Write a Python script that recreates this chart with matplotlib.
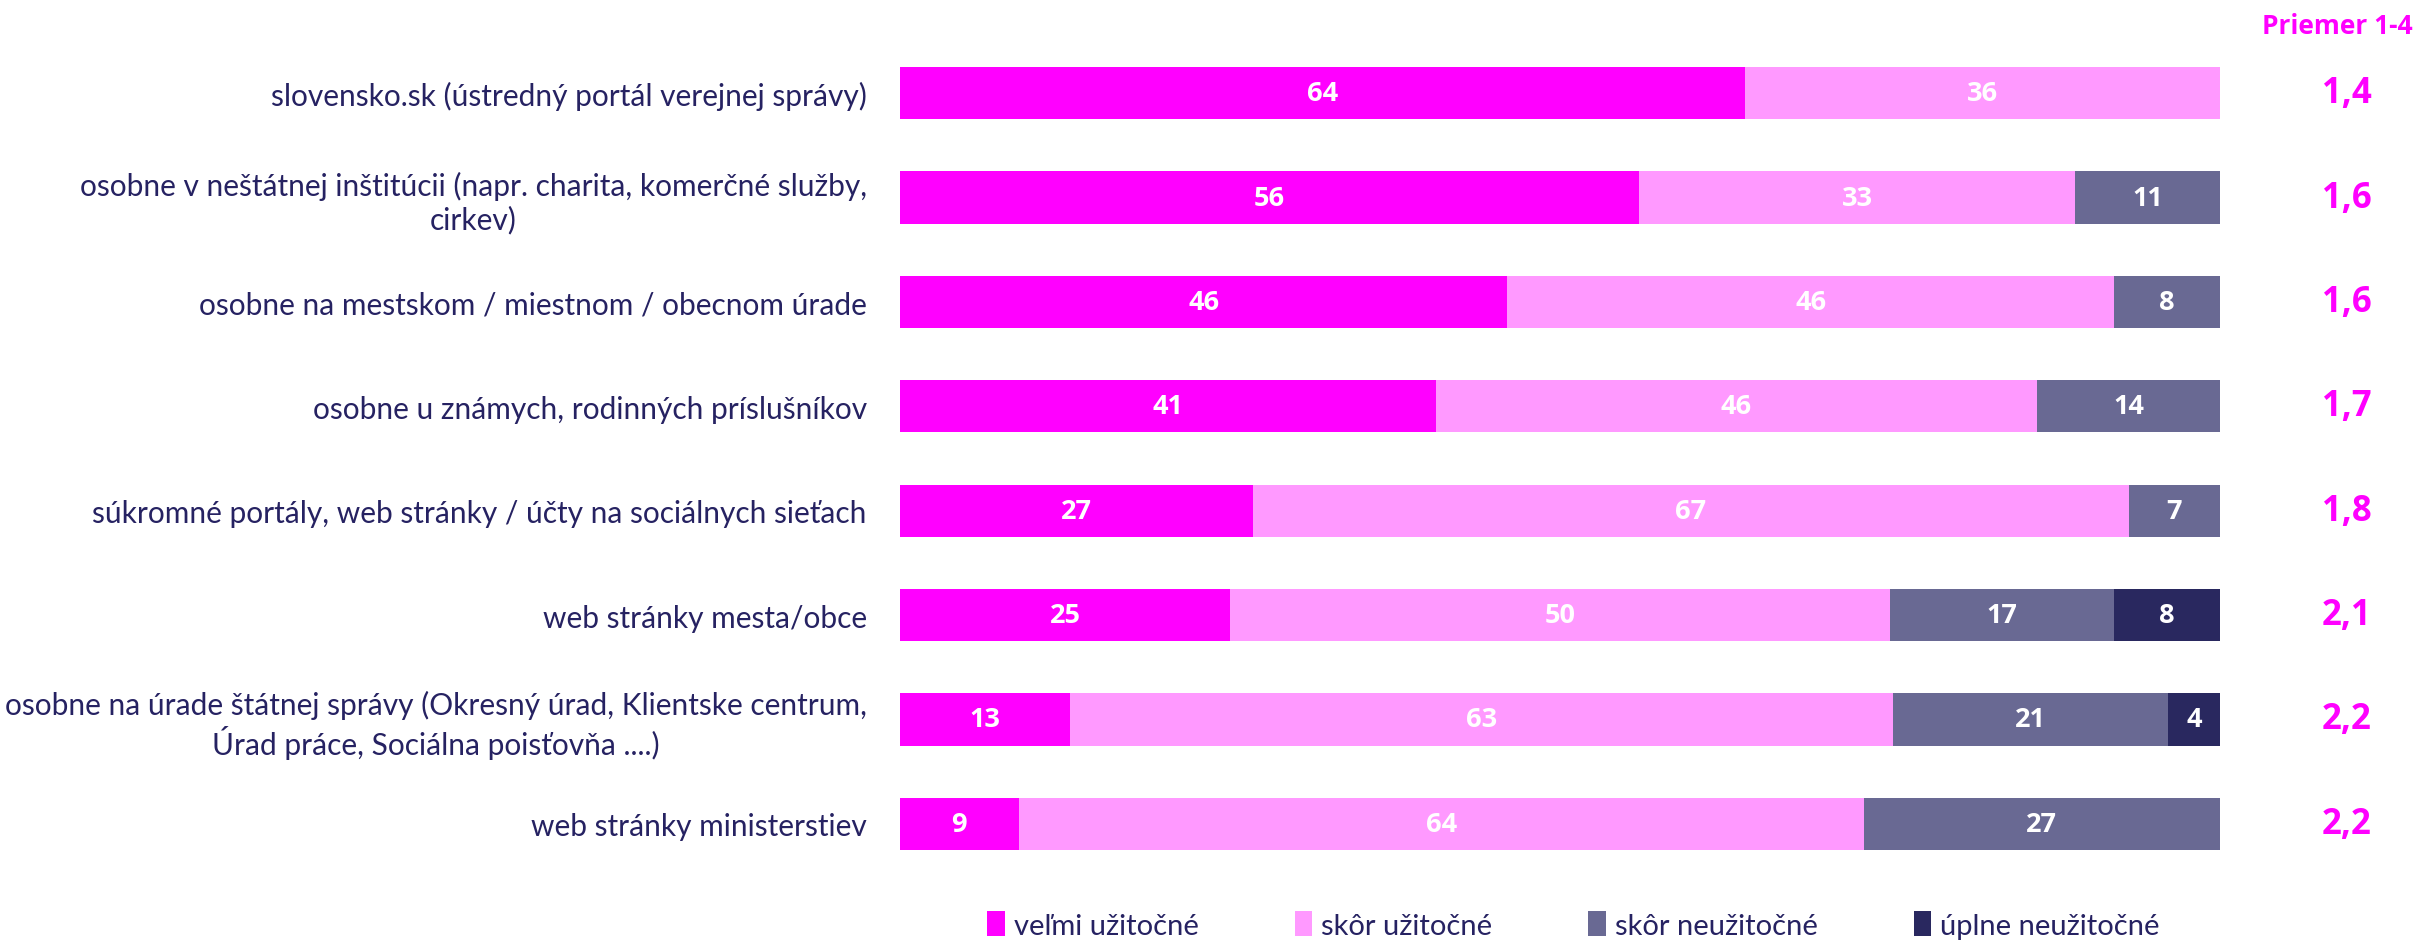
import numpy as np
import matplotlib.pyplot as plt
from matplotlib.transforms import blended_transform_factory

plt.rcParams['font.family'] = ['Lato', 'DejaVu Sans']

categories = [
    "slovensko.sk (ústredný portál verejnej správy)",
    "osobne v neštátnej inštitúcii (napr. charita, komerčné služby,\ncirkev)",
    "osobne na mestskom / miestnom / obecnom úrade",
    "osobne u známych, rodinných príslušníkov",
    "súkromné portály, web stránky / účty na sociálnych sieťach",
    "web stránky mesta/obce",
    "osobne na úrade štátnej správy (Okresný úrad, Klientske centrum,\nÚrad práce, Sociálna poisťovňa ....)",
    "web stránky ministerstiev",
]
velmi = [64, 56, 46, 41, 27, 25, 13, 9]
skor_uz = [36, 33, 46, 46, 67, 50, 63, 64]
skor_neuz = [0, 11, 8, 14, 7, 17, 21, 27]
uplne_neuz = [0, 0, 0, 0, 0, 8, 4, 0]
priemer = ["1,4", "1,6", "1,6", "1,7", "1,8", "2,1", "2,2", "2,2"]

series = [velmi, skor_uz, skor_neuz, uplne_neuz]
names = ["veľmi užitočné", "skôr užitočné", "skôr neužitočné", "úplne neužitočné"]
colors = ["#FF00FF", "#FF99FF", "#696993", "#29285F"]
text_col = "#262262"
magenta = "#FF00FF"
bold_font = ['Open Sans', 'DejaVu Sans']

data = np.array(series, dtype=float)
totals = data.sum(axis=0)
shares = data / totals * 100

fig = plt.figure(figsize=(24.17, 9.45), dpi=100)
ax = fig.add_axes([900 / 2417, 1 - 877 / 945, 1320 / 2417, 835 / 945])

y = np.arange(len(categories))
left = np.zeros(len(categories))
handles = []
for vals, w, name, col in zip(series, shares, names, colors):
    bars = ax.barh(y, w, left=left, height=0.5, color=col, label=name)
    handles.append(bars)
    for yi, v, l, wi in zip(y, vals, left, w):
        if v > 0:
            ax.text(l + wi / 2, yi, str(v), ha="center", va="center",
                    color="white", fontsize=19.5, fontweight="bold",
                    family=bold_font)
    left += w

ax.set_xlim(0, 100)
ax.set_ylim(len(categories) - 0.5, -0.5)
ax.set_yticks(y)
ax.set_yticklabels(categories, fontsize=21.5, color=text_col)
for t in ax.get_yticklabels():
    t.set_multialignment("center")
ax.tick_params(axis="y", length=0, pad=24)
ax.set_xticks([])
for s in ax.spines.values():
    s.set_visible(False)

trans = blended_transform_factory(fig.transFigure, ax.transData)
for yi, p in zip(y, priemer):
    ax.text(2347 / 2417, yi, p, transform=trans, ha="center", va="center",
            color=magenta, fontsize=25, fontweight="bold", family=bold_font)
fig.text(2413 / 2417, 1 - 27 / 945, "Priemer 1-4", ha="right", va="center",
         color=magenta, fontsize=19, fontweight="bold", family=bold_font)

leg = fig.legend(handles=handles, labels=names, loc="lower center",
                 bbox_to_anchor=(0.651, -0.022), ncol=4, frameon=False,
                 fontsize=21, handlelength=0.6, handleheight=0.9,
                 handletextpad=0.3, columnspacing=3.3)
for t in leg.get_texts():
    t.set_color(text_col)

fig.savefig("out.png", dpi=100)
